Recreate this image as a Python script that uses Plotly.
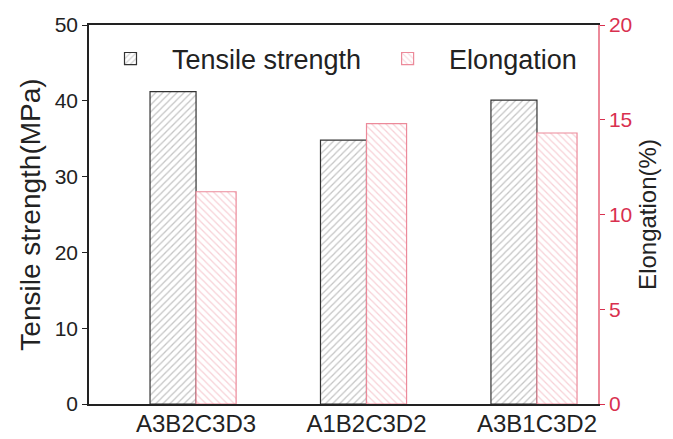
import plotly.graph_objects as go

categories = ["A3B2C3D3", "A1B2C3D2", "A3B1C3D2"]
tensile_strength = [41.2, 34.8, 40.1]
elongation = [11.2, 14.8, 14.3]

FONT = "Arial, 'Liberation Sans', sans-serif"
RED = "#d9304f"
PINK = "#ec8a9a"

fig = go.Figure()
fig.add_trace(go.Bar(
    x=categories, y=tensile_strength, name="Tensile strength",
    width=0.27, offset=-0.27,
    marker=dict(color="white", line=dict(color="#333333", width=1.2),
                pattern=dict(shape="/", fgcolor="#8a8a8a", bgcolor="white", size=5, solidity=0.25)),
    yaxis="y",
))
fig.add_trace(go.Bar(
    x=categories, y=elongation, name="Elongation",
    width=0.235, offset=0,
    marker=dict(color="white", line=dict(color=PINK, width=1.2),
                pattern=dict(shape="\\", fgcolor="#f0a4b0", bgcolor="white", size=5, solidity=0.25)),
    yaxis="y2",
))

fig.update_layout(
    width=673, height=439,
    margin=dict(l=89, r=75, t=25, b=35),
    plot_bgcolor="white", paper_bgcolor="white",
    font=dict(family=FONT, color="#222222"),
    barmode="overlay",
    showlegend=True,
    legend=dict(orientation="h", x=0.0, y=0.975, xanchor="left", yanchor="top",
                font=dict(size=27, color="#222222"), bgcolor="rgba(0,0,0,0)",
                itemwidth=73, tracegroupgap=0),
    xaxis=dict(
        range=[-0.628, 2.358], showline=True, linecolor="#222222", linewidth=1.5,
        mirror=True, ticks="", showgrid=False, zeroline=False, automargin=False,
        tickfont=dict(size=24, color="#222222"), ticklabelstandoff=-3,
    ),
    yaxis=dict(
        range=[0, 50], tickvals=[0, 10, 20, 30, 40, 50], showline=True,
        linecolor="#222222", linewidth=1.5, ticks="outside", ticklen=5,
        tickcolor="#222222", showgrid=False, zeroline=False, automargin=False,
        tickfont=dict(size=21, color="#222222"),
        title=dict(text="Tensile strength(MPa)", font=dict(size=28, color="#222222"), standoff=6),
    ),
    yaxis2=dict(
        range=[0, 20], tickvals=[0, 5, 10, 15, 20], overlaying="y", side="right",
        showline=True, linecolor=PINK, linewidth=1.5, ticks="outside", ticklen=5,
        tickcolor=RED, showgrid=False, zeroline=False, automargin=False,
        tickfont=dict(size=21, color=RED),
        title=dict(text="Elongation(%)", font=dict(size=24, color="#222222"), standoff=8),
    ),
)

fig.write_html("out.html")
